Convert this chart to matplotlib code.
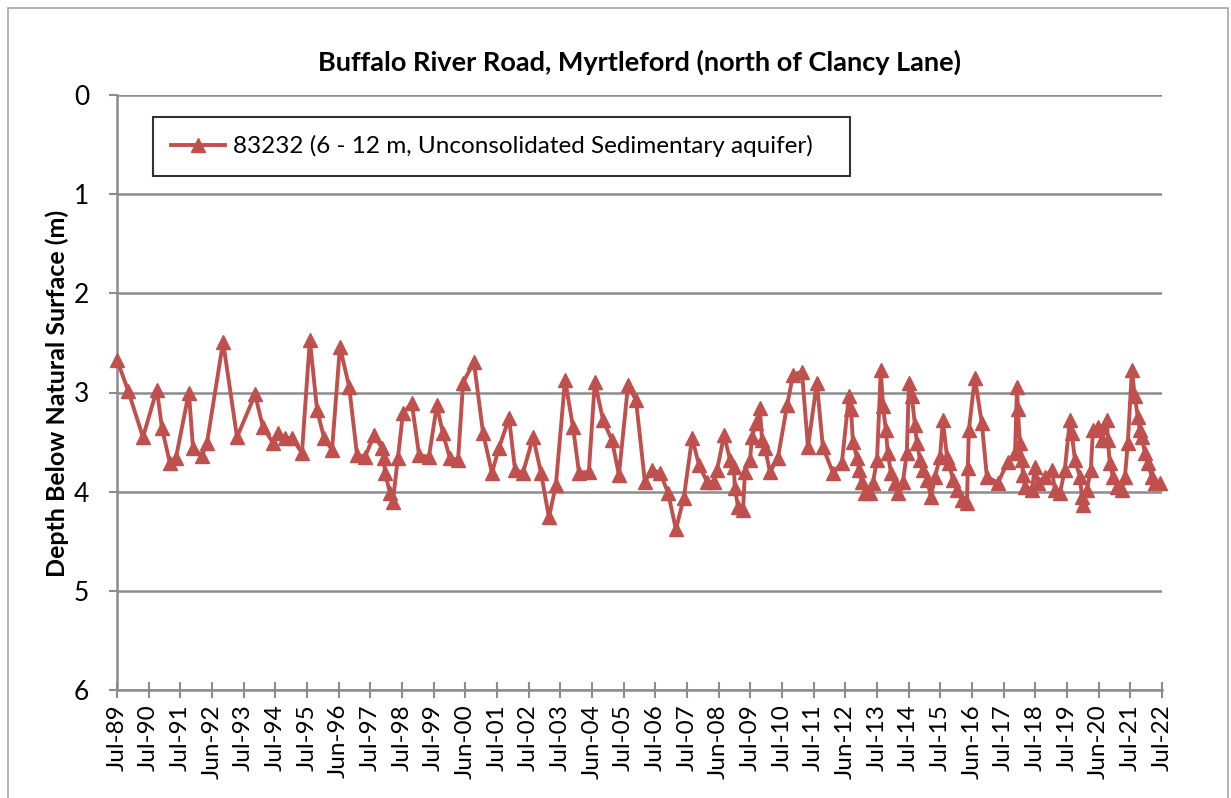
import matplotlib
matplotlib.use("Agg")
import matplotlib.pyplot as plt
from matplotlib.patches import Rectangle

# ---- data (decimal year, depth below natural surface in m) ----
years = [
    1989.50, 1989.85, 1990.32, 1990.76, 1990.92, 1991.17, 1991.36, 1991.77, 1991.90, 1992.18,
    1992.34, 1992.85, 1993.29, 1993.86, 1994.11, 1994.43, 1994.58, 1994.80, 1995.03, 1995.34,
    1995.59, 1995.82, 1996.04, 1996.29, 1996.54, 1996.83, 1997.08, 1997.33, 1997.62, 1997.87,
    1997.93, 1997.96, 1998.12, 1998.21, 1998.37, 1998.53, 1998.81, 1999.04, 1999.35, 1999.60,
    1999.79, 2000.01, 2000.27, 2000.43, 2000.77, 2001.06, 2001.34, 2001.56, 2001.88, 2002.07,
    2002.32, 2002.64, 2002.89, 2003.14, 2003.36, 2003.65, 2003.90, 2004.09, 2004.40, 2004.59,
    2004.85, 2005.13, 2005.35, 2005.64, 2005.89, 2006.17, 2006.39, 2006.65, 2006.90, 2007.15,
    2007.40, 2007.66, 2007.88, 2008.13, 2008.35, 2008.45, 2008.67, 2008.86, 2008.98, 2009.01,
    2009.11, 2009.27, 2009.33, 2009.49, 2009.55, 2009.68, 2009.80, 2009.87, 2009.96, 2010.12,
    2010.37, 2010.66, 2010.85, 2011.13, 2011.32, 2011.60, 2011.79, 2012.11, 2012.39, 2012.61,
    2012.68, 2012.74, 2012.87, 2012.93, 2013.02, 2013.12, 2013.28, 2013.37, 2013.50, 2013.62,
    2013.69, 2013.78, 2013.84, 2013.94, 2014.07, 2014.16, 2014.32, 2014.44, 2014.51, 2014.60,
    2014.70, 2014.76, 2014.86, 2014.95, 2015.08, 2015.20, 2015.33, 2015.49, 2015.58, 2015.71,
    2015.77, 2015.90, 2016.02, 2016.18, 2016.34, 2016.37, 2016.40, 2016.59, 2016.81, 2016.97,
    2017.32, 2017.63, 2017.86, 2017.92, 2017.95, 2018.01, 2018.08, 2018.11, 2018.17, 2018.39,
    2018.49, 2018.58, 2018.80, 2019.02, 2019.12, 2019.28, 2019.43, 2019.59, 2019.65, 2019.75,
    2019.91, 2019.97, 2020.00, 2020.13, 2020.25, 2020.32, 2020.48, 2020.60, 2020.76, 2020.79,
    2020.85, 2020.95, 2021.08, 2021.23, 2021.33, 2021.42, 2021.55, 2021.64, 2021.74, 2021.80,
    2021.86, 2021.96, 2022.05, 2022.18, 2022.27, 2022.43,
]
depths = [
    2.67, 2.98, 3.45, 2.97, 3.36, 3.71, 3.66, 3.00, 3.56, 3.64,
    3.51, 2.49, 3.45, 3.02, 3.35, 3.51, 3.41, 3.46, 3.46, 3.61,
    2.47, 3.18, 3.46, 3.58, 2.54, 2.94, 3.63, 3.65, 3.43, 3.56,
    3.66, 3.81, 4.01, 4.10, 3.66, 3.21, 3.11, 3.63, 3.65, 3.13,
    3.41, 3.66, 3.68, 2.90, 2.69, 3.41, 3.81, 3.56, 3.26, 3.78,
    3.81, 3.45, 3.81, 4.26, 3.93, 2.87, 3.35, 3.81, 3.80, 2.89,
    3.28, 3.48, 3.83, 2.92, 3.08, 3.90, 3.78, 3.81, 4.01, 4.38,
    4.06, 3.46, 3.73, 3.90, 3.90, 3.78, 3.43, 3.68, 3.75, 3.96,
    4.15, 4.18, 3.80, 3.68, 3.45, 3.31, 3.16, 3.48, 3.56, 3.80,
    3.66, 3.13, 2.82, 2.79, 3.55, 2.90, 3.55, 3.81, 3.71, 3.04,
    3.17, 3.50, 3.66, 3.78, 3.90, 4.01, 4.01, 3.91, 3.68, 2.77,
    3.14, 3.38, 3.61, 3.81, 3.91, 4.01, 3.90, 3.61, 2.90, 3.04,
    3.33, 3.51, 3.68, 3.78, 3.88, 4.05, 3.85, 3.65, 3.28, 3.65,
    3.71, 3.88, 3.98, 4.08, 4.11, 3.76, 3.38, 2.85, 3.31, 3.85,
    3.91, 3.70, 3.61, 2.94, 3.17, 3.51, 3.68, 3.83, 3.95, 3.98,
    3.75, 3.91, 3.85, 3.78, 3.98, 4.01, 3.78, 3.28, 3.41, 3.68,
    3.85, 4.05, 4.13, 3.98, 3.78, 3.38, 3.35, 3.48, 3.28, 3.48,
    3.71, 3.85, 3.95, 3.98, 3.85, 3.51, 2.77, 3.04, 3.25, 3.38,
    3.45, 3.61, 3.71, 3.85, 3.91, 3.91,
]
tick_labels = [
    "Jul-89", "Jul-90", "Jul-91", "Jun-92", "Jul-93", "Jul-94", "Jul-95", "Jun-96",
    "Jul-97", "Jul-98", "Jul-99", "Jun-00", "Jul-01", "Jul-02", "Jul-03", "Jun-04",
    "Jul-05", "Jul-06", "Jul-07", "Jun-08", "Jul-09", "Jul-10", "Jul-11", "Jun-12",
    "Jul-13", "Jul-14", "Jul-15", "Jun-16", "Jul-17", "Jul-18", "Jul-19", "Jun-20",
    "Jul-21", "Jul-22",
]
y_ticks = [0, 1, 2, 3, 4, 5, 6]
series_label = "83232 (6 - 12 m, Unconsolidated Sedimentary aquifer)"
title = "Buffalo River Road, Myrtleford (north of Clancy Lane)"
ylabel = "Depth Below Natural Surface (m)"

plt.rcParams['font.family'] = ['Lato', 'DejaVu Sans']

W, H = 1231, 798
fig = plt.figure(figsize=(W / 100, H / 100), dpi=100)
fig.patch.set_facecolor('white')

left, right, top, bottom = 117, 1162, 95, 690
ax = fig.add_axes([left / W, 1 - bottom / H, (right - left) / W, (bottom - top) / H])

red = '#C0504D'
grid_c = '#8C8C8C'

ax.plot(years, depths, color=red, lw=2.8, marker='^', markersize=10.5,
        markerfacecolor=red, markeredgecolor=red, label=series_label, clip_on=False, zorder=3)

x0 = 1989.5
ax.set_xlim(x0, x0 + len(tick_labels) - 1)
ax.set_ylim(6, 0)
ax.set_yticks(y_ticks)
ax.set_yticklabels([str(v) for v in y_ticks], fontsize=19)
ax.set_xticks([x0 + i for i in range(len(tick_labels))])
ax.set_xticklabels(tick_labels, rotation=90, fontsize=17.5)

ax.grid(axis='y', color=grid_c, lw=1.8, zorder=0)
ax.set_axisbelow(True)
for s in ['top', 'right']:
    ax.spines[s].set_visible(False)
ax.spines['left'].set_color(grid_c)
ax.spines['left'].set_linewidth(1.8)
ax.spines['bottom'].set_color(grid_c)
ax.spines['bottom'].set_linewidth(1.8)
ax.tick_params(axis='x', direction='inout', length=12, width=1.5, color=grid_c, pad=4)
ax.tick_params(axis='y', direction='out', length=6, width=1.5, color=grid_c, pad=14)

fig.text((left + right) / 2 / W + 0.0, 1 - 62 / H, title, ha='center', va='center',
         fontsize=19.5, fontweight='bold')
fig.text(57 / W, 1 - 393 / H, ylabel, ha='center', va='center', rotation=90,
         fontsize=18, fontweight='bold')

lx0, ly0, lx1, ly1 = 153, 117, 850, 184
leg = ax.legend(loc='upper left', bbox_to_anchor=(lx0 / W, 1 - ly1 / H, (lx1 - lx0) / W, (ly1 - ly0) / H),
                bbox_transform=fig.transFigure, mode='expand', fontsize=17.5, frameon=True,
                fancybox=False, borderpad=0.75, handlelength=2.2, handletextpad=0.35,
                borderaxespad=0)
leg.get_frame().set_edgecolor('black')
leg.get_frame().set_linewidth(1.5)

fig.patches.append(Rectangle((8 / W, -0.01), (1228 - 8) / W, 1 - 8 / H + 0.01,
                             transform=fig.transFigure, fill=False, edgecolor='#A6A6A6', lw=1.2))

fig.savefig('out.png', dpi=100)
